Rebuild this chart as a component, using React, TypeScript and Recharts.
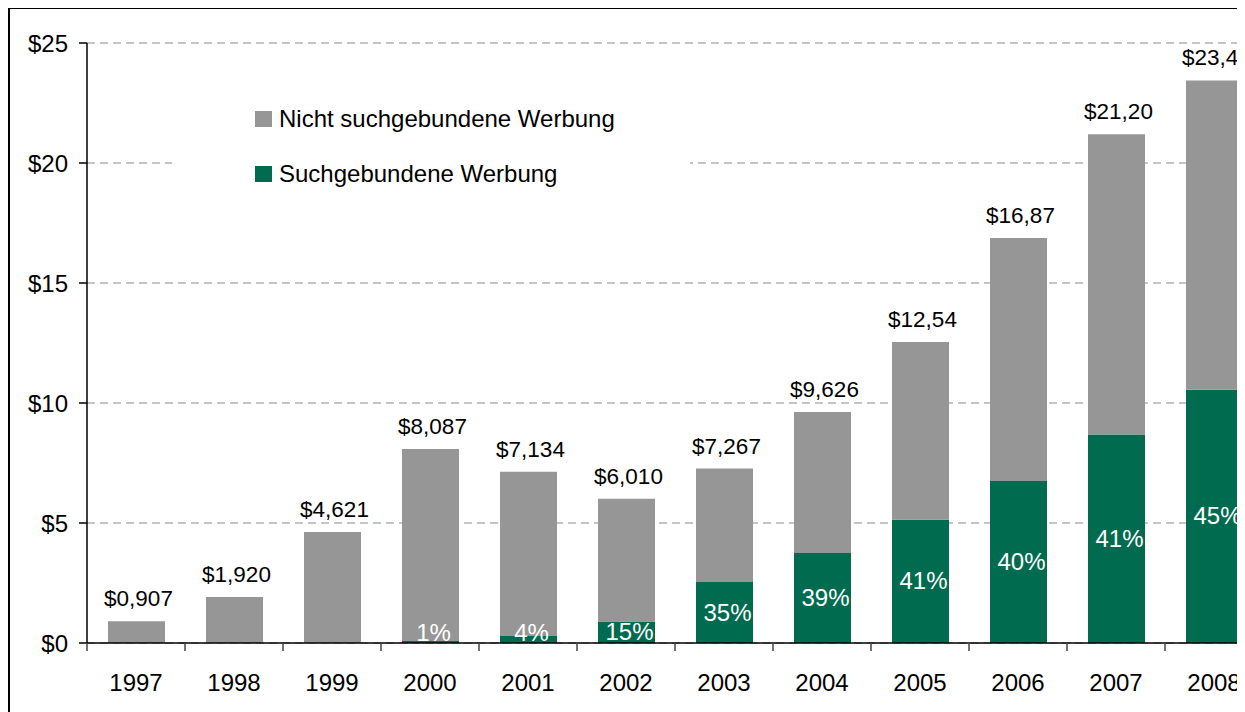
import { BarChart, Bar, XAxis, YAxis, CartesianGrid, Legend, LabelList } from 'recharts'

const years = ['1997', '1998', '1999', '2000', '2001', '2002', '2003', '2004', '2005', '2006', '2007', '2008']
const searchAds = [0, 0, 0, 0.08, 0.29, 0.9, 2.54, 3.75, 5.14, 6.75, 8.69, 10.55]
const otherAds = [0.907, 1.92, 4.621, 8.007, 6.844, 5.11, 4.727, 5.876, 7.4, 10.12, 12.51, 12.89]
const totalLabels = ['$0,907', '$1,920', '$4,621', '$8,087', '$7,134', '$6,010', '$7,267', '$9,626', '$12,54', '$16,87', '$21,20', '$23,44']
const shareLabels = ['', '', '', '1%', '4%', '15%', '35%', '39%', '41%', '40%', '41%', '45%']
const yTicks = [0, 5, 10, 15, 20, 25]

const GRAY = '#969696'
const GREEN = '#006B4F'
const FONT = 24

const data = years.map((year, i) => ({
  year,
  search: searchAds[i],
  other: otherAds[i],
  totalLabel: totalLabels[i],
  shareLabel: shareLabels[i],
}))

const CHART_W = 1263
const CHART_H = 700
const Y_AXIS_W = 77
const MARGIN_R = 10
const HALF_BAND = (CHART_W - Y_AXIS_W - MARGIN_R) / years.length / 2

function YearTick(props: any) {
  const { x, y, payload } = props
  const axisY = y - 8
  return (
    <g>
      <line x1={x - HALF_BAND} x2={x - HALF_BAND} y1={axisY} y2={axisY + 8} stroke="#444" strokeWidth={1.5} />
      <text x={x} y={y + 40} textAnchor="middle" fill="#000" fontSize={FONT}>
        {payload.value}
      </text>
    </g>
  )
}

function TotalLabel(props: any) {
  const { x, y, width, value } = props
  return (
    <text x={x + width / 2 + 2} y={y - 15} textAnchor="middle" fill="#000" fontSize={22.5}>
      {value}
    </text>
  )
}

function ShareLabel(props: any) {
  const { x, y, width, height, value } = props
  if (!value) return null
  const cy = Math.min(y + height / 2, 624)
  return (
    <text x={x + width / 2 + 3} y={cy + 8} textAnchor="middle" fill="#fff" fontSize={FONT}>
      {value}
    </text>
  )
}

function LegendBox() {
  const item = (color: string, label: string, top: number) => (
    <div style={{ position: 'absolute', left: 83, top, display: 'flex', alignItems: 'center' }}>
      <div style={{ width: 17, height: 16, background: color }} />
      <span style={{ marginLeft: 7, fontSize: FONT, color: '#000', lineHeight: '26px' }}>{label}</span>
    </div>
  )
  return (
    <div style={{ position: 'relative', width: 518, height: 110, background: '#fff' }}>
      {item(GRAY, 'Nicht suchgebundene Werbung', 11)}
      {item(GREEN, 'Suchgebundene Werbung', 66)}
    </div>
  )
}

export default function App() {
  return (
    <div style={{ width: 1237, height: 706, marginTop: -1, overflow: 'hidden', fontFamily: '"Liberation Sans", Arial, sans-serif' }}>
      <div style={{ width: CHART_W + 20, height: 760, border: '2px solid #000', boxSizing: 'border-box' }}>
        <BarChart
          width={CHART_W}
          height={CHART_H}
          data={data}
          margin={{ top: 34, right: MARGIN_R, bottom: 10, left: 0 }}
        >
          <CartesianGrid vertical={false} stroke="#8c8c8c" strokeDasharray="8 5" />
          <XAxis
            dataKey="year"
            height={56}
            axisLine={{ stroke: '#000', strokeWidth: 1.5 }}
            tickLine={false}
            tick={<YearTick />}
            interval={0}
          />
          <YAxis
            width={Y_AXIS_W}
            domain={[0, 25]}
            ticks={yTicks}
            tickFormatter={(v: number) => `$${v}`}
            axisLine={{ stroke: '#000', strokeWidth: 1.5 }}
            tickLine={{ stroke: '#000', strokeWidth: 1.5 }}
            tickSize={8}
            tickMargin={11}
            tick={{ fill: '#000', fontSize: FONT }}
          />
          <Legend
            verticalAlign="middle"
            align="center"
            content={<LegendBox />}
            wrapperStyle={{ left: 162, top: 86, width: 518, height: 110 }}
          />
          <Bar dataKey="search" stackId="a" fill={GREEN} barSize={57} isAnimationActive={false} name="Suchgebundene Werbung">
            <LabelList dataKey="shareLabel" content={<ShareLabel />} />
          </Bar>
          <Bar dataKey="other" stackId="a" fill={GRAY} barSize={57} isAnimationActive={false} name="Nicht suchgebundene Werbung">
            <LabelList dataKey="totalLabel" content={<TotalLabel />} />
          </Bar>
        </BarChart>
      </div>
    </div>
  )
}
